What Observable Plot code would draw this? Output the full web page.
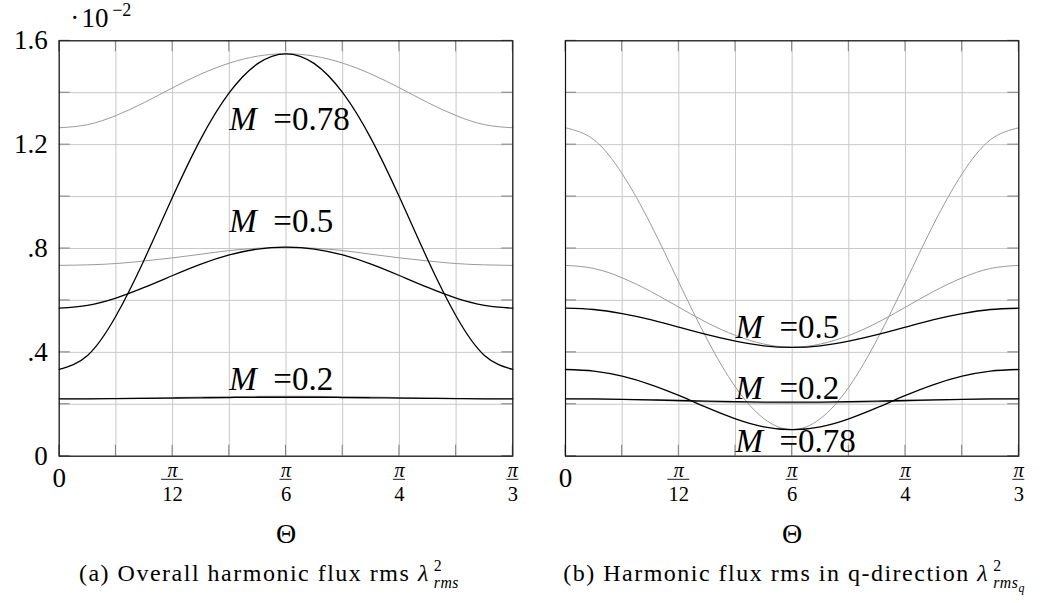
<!DOCTYPE html>
<html><head><meta charset="utf-8">
<script src="https://cdn.jsdelivr.net/npm/d3@7"></script>
<script src="https://cdn.jsdelivr.net/npm/@observablehq/plot@0.6"></script>
<style>
body{margin:0;background:#fff;}
#wrap{position:relative;width:1045px;height:603px;font-family:"Liberation Serif","Times New Roman","DejaVu Serif",serif;color:#000;}
#left,#right{position:absolute;top:0;}
#left{left:0px;} #right{left:540px;}
.cap{position:absolute;top:557px;font-size:24px;line-height:26px;letter-spacing:1.5px;white-space:nowrap;transform:translateX(-50%);}
.ss{display:inline-block;vertical-align:-0.45em;line-height:1.1;font-size:0.66em;margin-left:4px;letter-spacing:0.5px;}
.ss span{display:block;}
.ss sub{font-size:0.75em;vertical-align:-0.3em;line-height:0;}
</style></head>
<body>
<div id="wrap">
<div id="left"></div><div id="right"></div>
<div class="cap" style="left:269px">(a) Overall harmonic flux rms <i>λ</i><span class="ss"><span>2</span><span><i>rms</i></span></span></div>
<div class="cap" style="left:794px">(b) Harmonic flux rms in q-direction <i>λ</i><span class="ss"><span>2</span><span><i>rms<sub>q</sub></i></span></span></div>
</div>
<script>
// θ sample points, in multiples of π/48 (0 … π/3)
const thetaK = [0,1,2,3,4,5,6,7,8,9,10,11,12,13,14,15,16];

// (a) overall harmonic flux rms (×10^-2)
const aBlack078 = [0.334,0.388,0.540,0.757,0.998,1.223,1.400,1.512,1.550,1.512,1.400,1.223,0.998,0.757,0.540,0.388,0.334];
const aGray078  = [1.265,1.277,1.312,1.362,1.419,1.472,1.514,1.541,1.550,1.541,1.514,1.472,1.419,1.362,1.312,1.277,1.265];
const aBlack05  = [0.570,0.581,0.609,0.650,0.696,0.740,0.775,0.798,0.805,0.798,0.775,0.740,0.696,0.650,0.609,0.581,0.570];
const aGray05   = [0.735,0.737,0.742,0.752,0.764,0.778,0.792,0.801,0.805,0.801,0.792,0.778,0.764,0.752,0.742,0.737,0.735];
const aBlack02  = [0.221,0.221,0.222,0.223,0.224,0.225,0.226,0.227,0.227,0.227,0.226,0.225,0.224,0.223,0.222,0.221,0.221];
const aGray02   = [0.221,0.221,0.2225,0.224,0.226,0.228,0.2295,0.2305,0.231,0.2305,0.2295,0.228,0.226,0.224,0.2225,0.221,0.221];

// (b) harmonic flux rms in q-direction (×10^-2)
const bBlack078 = [0.334,0.328,0.308,0.276,0.234,0.187,0.144,0.113,0.102,0.113,0.144,0.187,0.234,0.276,0.308,0.328,0.334];
const bGray078  = [1.265,1.219,1.088,0.895,0.670,0.450,0.266,0.145,0.102,0.145,0.266,0.450,0.670,0.895,1.088,1.219,1.265];
const bBlack05  = [0.570,0.565,0.549,0.526,0.497,0.468,0.443,0.425,0.419,0.425,0.443,0.468,0.497,0.526,0.549,0.565,0.570];
const bGray05   = [0.735,0.723,0.687,0.635,0.574,0.514,0.465,0.432,0.420,0.432,0.465,0.514,0.574,0.635,0.687,0.723,0.735];
const bBlack02  = [0.221,0.2205,0.219,0.217,0.2145,0.212,0.210,0.2085,0.208,0.2085,0.210,0.212,0.2145,0.217,0.219,0.2205,0.221];
const bGray02   = [0.221,0.220,0.2185,0.2158,0.2125,0.209,0.2065,0.2045,0.204,0.2045,0.2065,0.209,0.2125,0.2158,0.2185,0.220,0.221];

// axes
const xTickValues = [0, Math.PI/12, Math.PI/6, Math.PI/4, Math.PI/3];
const xTickNum = ["", "π", "π", "π", "π"];
const xTickDen = ["", "12", "6", "4", "3"];
const xGridValues = [0,1,2,3,4,5,6,7,8].map(k => k*Math.PI/24);
const yGridValues = [0,0.2,0.4,0.6,0.8,1.0,1.2,1.4,1.6];
const yTickValues = [0, 0.4, 0.8, 1.2, 1.6];
const yTickLabels = ["0", ".4", ".8", "1.2", "1.6"];
const xLabel = "Θ";

// curve labels (data coordinates)
const labelX = Math.PI/8;
const aLabelText = ["=0.78", "=0.5", "=0.2"];
const aLabelY = [1.257, 0.863, 0.256];
const bLabelText = ["=0.5", "=0.2", "=0.78"];
const bLabelY = [0.456, 0.221, 0.018];

const FONT = '"Liberation Serif","Times New Roman","DejaVu Serif",serif';
const rows = vals => vals.map((v, i) => ({theta: thetaK[i]*Math.PI/48, v}));

function inwardTicks(xv, yv, len) {
  return (index, scales, values, dim) => {
    const x0 = dim.marginLeft, x1 = dim.width - dim.marginRight;
    const y0 = dim.marginTop, y1 = dim.height - dim.marginBottom;
    const g = d3.create("svg:g").attr("stroke", "#808080").attr("stroke-width", 1).attr("fill", "none");
    for (const v of xv) {
      const x = scales.x(v);
      g.append("line").attr("x1", x).attr("x2", x).attr("y1", y1).attr("y2", y1 - len);
      g.append("line").attr("x1", x).attr("x2", x).attr("y1", y0).attr("y2", y0 + len);
    }
    for (const v of yv) {
      const y = scales.y(v);
      g.append("line").attr("x1", x0).attr("x2", x0 + len).attr("y1", y).attr("y2", y);
      g.append("line").attr("x1", x1).attr("x2", x1 - len).attr("y1", y).attr("y2", y);
    }
    return g.node();
  };
}
function fractionBars(dy) {
  return (index, scales, values, dim) => {
    const yb = dim.height - dim.marginBottom + dy;
    const g = d3.create("svg:g").attr("stroke", "#000").attr("stroke-width", 0.9);
    xTickValues.forEach((v, i) => {
      if (!xTickDen[i]) return;
      const w = xTickDen[i].length * 10 + 2;
      const x = scales.x(v);
      g.append("line").attr("x1", x - w/2).attr("x2", x + w/2).attr("y1", yb).attr("y2", yb);
    });
    return g.node();
  };
}

function panel({width, marginLeft, marginRight, series, labelText, labelY, yAxis}) {
  const marks = [
    Plot.gridX(xGridValues, {stroke: "#c8c8c8", strokeOpacity: 1, strokeWidth: 1}),
    Plot.gridY(yGridValues, {stroke: "#c8c8c8", strokeOpacity: 1, strokeWidth: 1}),
    inwardTicks(xGridValues, yGridValues, 11),
    ...series.map(s => Plot.line(rows(s.vals), {x: "theta", y: "v", stroke: s.color, strokeWidth: s.w, curve: "natural"})),
    Plot.frame({stroke: "#111", strokeWidth: 1.2}),
    Plot.text(labelY, {x: () => labelX, y: d => d, text: () => "M", fontStyle: "italic", textAnchor: "start", lineAnchor: "bottom", fontSize: 33}),
    Plot.text(labelY, {x: () => labelX, y: d => d, text: (d, i) => labelText[i], textAnchor: "start", lineAnchor: "bottom", fontSize: 33, dx: 44}),
    Plot.text([0], {x: d => d, text: () => "0", frameAnchor: "bottom", lineAnchor: "middle", dy: 22, fontSize: 27}),
    Plot.text(xTickValues.slice(1), {x: d => d, text: (d, i) => xTickNum[i+1], frameAnchor: "bottom", lineAnchor: "bottom", dy: 20.5, fontSize: 20, fontStyle: "italic"}),
    Plot.text(xTickValues.slice(1), {x: d => d, text: (d, i) => xTickDen[i+1], frameAnchor: "bottom", lineAnchor: "bottom", dy: 44.5, fontSize: 20.5}),
    fractionBars(23.6),
    Plot.text([xLabel], {frameAnchor: "bottom", lineAnchor: "middle", dy: 78.3, fontSize: 28})
  ];
  if (yAxis) {
    marks.push(Plot.axisY(yTickValues, {anchor: "left", label: null, tickSize: 0, tickPadding: 11.5, fontSize: 27,
      tickFormat: d => yTickLabels[yTickValues.indexOf(d)]}));
    marks.push(Plot.text(["·\u200A10"], {frameAnchor: "top-left", textAnchor: "start", lineAnchor: "bottom", dx: 11, dy: -14, fontSize: 27}));
    marks.push(Plot.text(["−2"], {frameAnchor: "top-left", textAnchor: "start", lineAnchor: "bottom", dx: 53, dy: -25, fontSize: 18}));
  }
  return Plot.plot({
    width, height: 550,
    marginLeft, marginRight, marginTop: 40.3, marginBottom: 94.3,
    x: {domain: [0, Math.PI/3], axis: null},
    y: {domain: [0, 1.6], axis: null},
    style: {fontFamily: FONT, background: "transparent", color: "#000", overflow: "visible"},
    marks
  });
}

const G = "#9a9a9a", K = "#000";
document.getElementById("left").append(panel({
  width: 540, marginLeft: 58.7, marginRight: 27.7, yAxis: true,
  labelText: aLabelText, labelY: aLabelY,
  series: [
    {vals: aGray078, color: G, w: 1}, {vals: aGray05, color: G, w: 1}, {vals: aGray02, color: G, w: 1},
    {vals: aBlack078, color: K, w: 1.3}, {vals: aBlack05, color: K, w: 1.3}, {vals: aBlack02, color: K, w: 1.3}
  ]
}));
document.getElementById("right").append(panel({
  width: 505, marginLeft: 25, marginRight: 26.7, yAxis: false,
  labelText: bLabelText, labelY: bLabelY,
  series: [
    {vals: bGray078, color: G, w: 1}, {vals: bGray05, color: G, w: 1}, {vals: bGray02, color: G, w: 1},
    {vals: bBlack078, color: K, w: 1.3}, {vals: bBlack05, color: K, w: 1.3}, {vals: bBlack02, color: K, w: 1.3}
  ]
}));
</script>
</body></html>
